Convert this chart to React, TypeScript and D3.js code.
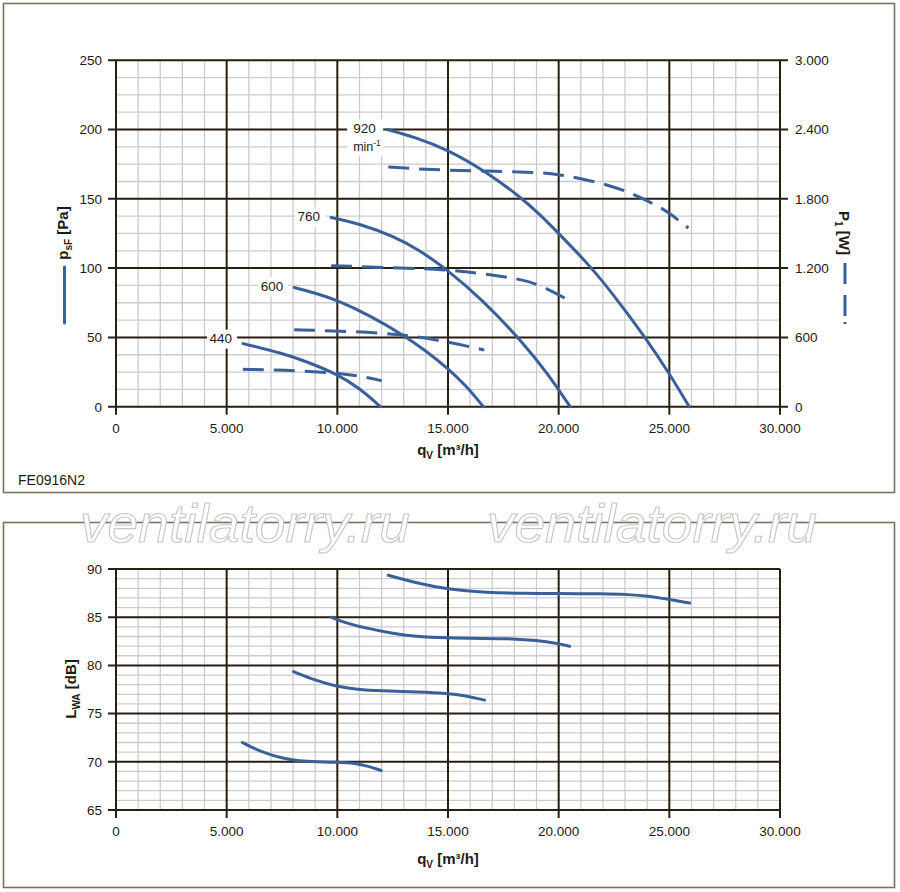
import React from "react";
import * as d3 from "d3";

// ---------- data ----------
const Q_MAJOR = [0, 5000, 10000, 15000, 20000, 25000, 30000];
const P_MAJOR = [0, 50, 100, 150, 200, 250];
const W_MAJOR = [0, 600, 1200, 1800, 2400, 3000];
const L_MAJOR = [65, 70, 75, 80, 85, 90];

const SPEEDS = ["440", "600", "760", "920"];

// static pressure psF [Pa] vs qV [m3/h]
const PRESS_440: [number, number][] = [[5740, 45.5], [7500, 38.7], [8700, 32], [9970, 23.6], [11000, 13.5], [11950, 0]];
const PRESS_600: [number, number][] = [[8050, 86], [9000, 82], [9970, 77], [11500, 65.5], [12840, 53], [14000, 40.5], [15000, 27.5], [15800, 15.5], [16600, 0]];
const PRESS_760: [number, number][] = [[9720, 136.5], [11000, 132], [12540, 123], [13700, 113], [14870, 100], [16500, 78], [18350, 47], [19500, 24], [20520, 0]];
const PRESS_920: [number, number][] = [[12250, 200], [13500, 194.5], [14950, 185.7], [16680, 170], [18260, 151.5], [19170, 138.5], [20000, 125], [21520, 100], [22700, 76], [23910, 50], [25000, 24], [25900, 0]];

// power P1 [W]
const POWER_440: [number, number][] = [[5730, 324], [7560, 318], [9970, 294], [11000, 267], [12000, 225]];
const POWER_600: [number, number][] = [[8050, 667], [9970, 655], [12840, 633], [15000, 561], [16640, 491]];
const POWER_760: [number, number][] = [[9720, 1221], [12540, 1203], [14870, 1190], [17000, 1142], [18000, 1112], [19030, 1070], [20520, 915]];
const POWER_920: [number, number][] = [[12300, 2075], [13500, 2060], [14950, 2048], [16680, 2040], [19030, 2030], [20000, 2012], [21000, 1975], [22330, 1915], [23140, 1858], [23690, 1812], [24460, 1738], [24960, 1684], [25860, 1547]];

// sound power LWA [dB]
const LWA_440: [number, number][] = [[5710, 72.0], [6300, 71.3], [7000, 70.7], [7560, 70.35], [8320, 70.08], [9000, 70.0], [10000, 69.97], [10800, 69.85], [11400, 69.55], [11980, 69.1]];
const LWA_600: [number, number][] = [[8020, 79.35], [9000, 78.45], [9970, 77.8], [10900, 77.5], [11930, 77.35], [13740, 77.25], [14950, 77.1], [15800, 76.85], [16650, 76.4]];
const LWA_760: [number, number][] = [[9720, 85.0], [10300, 84.45], [11330, 83.85], [12460, 83.33], [13500, 83.0], [14950, 82.84], [16500, 82.8], [17960, 82.77], [19000, 82.6], [19920, 82.29], [20490, 81.98]];
const LWA_920: [number, number][] = [[12300, 89.35], [13500, 88.6], [14950, 87.9], [16750, 87.55], [18500, 87.47], [19920, 87.45], [22000, 87.43], [23200, 87.35], [23990, 87.22], [24970, 86.86], [25920, 86.47]];

const PRESSURES = [PRESS_440, PRESS_600, PRESS_760, PRESS_920];
const POWERS = [POWER_440, POWER_600, POWER_760, POWER_920];
const LWAS = [LWA_440, LWA_600, LWA_760, LWA_920];

// ---------- styling ----------
const FONT = "'Liberation Sans', Arial, Helvetica, sans-serif";
const BLUE = "#3a609c";
const MAJOR = "#2a2012";
const MINOR = "#cbcbcb";
const TXT = "#1e1a14";

const locale = d3.formatLocale({ decimal: ",", thousands: ".", grouping: [3], currency: ["", ""] });
const fmt = locale.format(",");

const x = d3.scaleLinear().domain([0, 30000]).range([116, 780]);
const yP = d3.scaleLinear().domain([0, 250]).range([406.7, 60.2]);
const yW = d3.scaleLinear().domain([0, 3000]).range([406.7, 60.2]);
const yL = d3.scaleLinear().domain([65, 90]).range([810, 569]);

function Grid({ y, yMin, yMax, minorStep }: { y: d3.ScaleLinear<number, number>; yMin: number; yMax: number; minorStep: number }) {
  const xMinor = d3.range(0, 30001, 1000);
  const yMinor = d3.range(yMin, yMax + 0.001, minorStep);
  const [xa, xb] = x.range();
  const ya = y(yMin);
  const yb = y(yMax);
  return (
    <g>
      {xMinor.map((v) => (
        <line key={"vx" + v} x1={x(v)} x2={x(v)} y1={ya} y2={yb} stroke={MINOR} strokeWidth={1.3} />
      ))}
      {yMinor.map((v) => (
        <line key={"hy" + v} x1={xa} x2={xb} y1={y(v)} y2={y(v)} stroke={MINOR} strokeWidth={1.3} />
      ))}
    </g>
  );
}

function Majors({ y, ticks, leftLabels, rightScale, rightTicks }: { y: d3.ScaleLinear<number, number>; ticks: number[]; leftLabels: boolean; rightScale?: d3.ScaleLinear<number, number>; rightTicks?: number[] }) {
  const ya = y(ticks[0]);
  const yb = y(ticks[ticks.length - 1]);
  return (
    <g>
      {Q_MAJOR.map((v) => (
        <line key={"mx" + v} x1={x(v)} x2={x(v)} y1={yb} y2={ya + 8} stroke={MAJOR} strokeWidth={2} />
      ))}
      {ticks.map((v) => (
        <line key={"my" + v} x1={x(0) - 8} x2={x(30000) + (rightScale ? 8 : 0)} y1={y(v)} y2={y(v)} stroke={MAJOR} strokeWidth={2} />
      ))}
      {leftLabels &&
        ticks.map((v) => (
          <text key={"ly" + v} x={102} y={y(v) + 4.8} textAnchor="end" fontSize={13.5} fill={TXT} fontFamily={FONT}>
            {fmt(v)}
          </text>
        ))}
      {Q_MAJOR.map((v) => (
        <text key={"lx" + v} x={x(v)} y={ya + 26} textAnchor="middle" fontSize={13.5} fill={TXT} fontFamily={FONT}>
          {fmt(v)}
        </text>
      ))}
      {rightScale &&
        rightTicks &&
        rightTicks.map((v) => (
          <text key={"ry" + v} x={795} y={rightScale(v) + 4.8} textAnchor="start" fontSize={13.5} fill={TXT} fontFamily={FONT}>
            {fmt(v)}
          </text>
        ))}
    </g>
  );
}

function QTitle({ yBase }: { yBase: number }) {
  return (
    <text x={448} y={yBase} textAnchor="middle" fontSize={15} fontWeight="bold" fill={TXT} fontFamily={FONT}>
      q<tspan fontSize={10} dy={4}>V</tspan>
      <tspan dy={-4}> [m³/h]</tspan>
    </text>
  );
}

export default function App() {
  const curve = d3.curveBasis;
  const lineP = d3.line<[number, number]>().x((d) => x(d[0])).y((d) => yP(d[1])).curve(curve);
  const lineW = d3.line<[number, number]>().x((d) => x(d[0])).y((d) => yW(d[1])).curve(curve);
  const lineL = d3.line<[number, number]>().x((d) => x(d[0])).y((d) => yL(d[1])).curve(curve);

  return (
    <svg width={900} height={892} viewBox="0 0 900 892" style={{ position: "absolute", left: 0, top: 0, display: "block", background: "#fff" }}>
      <rect x={0} y={0} width={900} height={892} fill="#fff" />
      {/* frames */}
      <rect x={3.5} y={3.5} width={891} height={489} fill="#fff" stroke="#77725f" strokeWidth={1.6} />
      <rect x={3.5} y={522.5} width={891} height={365} fill="#fff" stroke="#77725f" strokeWidth={1.6} />

      {/* ---------- top chart ---------- */}
      <Grid y={yP} yMin={0} yMax={250} minorStep={12.5} />
      <Majors y={yP} ticks={P_MAJOR} leftLabels={true} rightScale={yW} rightTicks={W_MAJOR} />

      {POWERS.map((d, i) => (
        <path key={"pw" + i} d={lineW(d) || ""} fill="none" stroke={BLUE} strokeWidth={3} strokeDasharray="21 10" />
      ))}
      {PRESSURES.map((d, i) => (
        <path key={"pr" + i} d={lineP(d) || ""} fill="none" stroke={BLUE} strokeWidth={3} strokeLinecap="round" />
      ))}

      {/* speed labels */}
      {PRESSURES.map((d, i) => {
        const sx = x(d[0][0]);
        const sy = yP(d[0][1]);
        const is920 = SPEEDS[i] === "920";
        const dy = SPEEDS[i] === "440" ? -4 : 0;
        return (
          <g key={"lab" + i}>
            <rect x={sx - (is920 ? 40 : 36)} y={sy - 10 + dy} width={is920 ? 36 : 30} height={is920 ? 36 : 19} fill="#fff" />
            <text x={sx - (is920 ? 34 : 11)} y={sy + 3 + dy} textAnchor={is920 ? "start" : "end"} fontSize={13.5} fill={TXT} fontFamily={FONT}>
              {SPEEDS[i]}
            </text>
            {is920 && (
              <text x={sx - 34} y={sy + 21} textAnchor="start" fontSize={12.5} fill={TXT} fontFamily={FONT}>
                min<tspan fontSize={8.5} dy={-5}>-1</tspan>
              </text>
            )}
          </g>
        );
      })}

      <QTitle yBase={455} />

      {/* left axis title + legend */}
      <text transform="translate(68,233) rotate(-90)" textAnchor="middle" fontSize={15} fontWeight="bold" fill={TXT} fontFamily={FONT}>
        p<tspan fontSize={10} dy={4}>sF</tspan>
        <tspan dy={-4}> [Pa]</tspan>
      </text>
      <line x1={64.5} x2={64.5} y1={267} y2={323} stroke={BLUE} strokeWidth={3} strokeLinecap="round" />

      {/* right axis title + legend */}
      <text transform="translate(839,233) rotate(90)" textAnchor="middle" fontSize={15} fontWeight="bold" fill={TXT} fontFamily={FONT}>
        P<tspan fontSize={10} dy={4}>1</tspan>
        <tspan dy={-4}> [W]</tspan>
      </text>
      <line x1={845} x2={845} y1={263} y2={325} stroke={BLUE} strokeWidth={3} strokeDasharray="21 11 21 6 2 100" />

      <text x={18} y={485} fontSize={14} fill={TXT} fontFamily={FONT}>
        FE0916N2
      </text>

      {/* ---------- bottom chart ---------- */}
      <Grid y={yL} yMin={65} yMax={90} minorStep={1} />
      <Majors y={yL} ticks={L_MAJOR} leftLabels={true} />
      {LWAS.map((d, i) => (
        <path key={"lw" + i} d={lineL(d) || ""} fill="none" stroke={BLUE} strokeWidth={3} strokeLinecap="round" />
      ))}
      <QTitle yBase={864} />
      <text transform="translate(76,689) rotate(-90)" textAnchor="middle" fontSize={15} fontWeight="bold" fill={TXT} fontFamily={FONT}>
        L<tspan fontSize={10} dy={4}>WA</tspan>
        <tspan dy={-4}> [dB]</tspan>
      </text>

      {/* watermark */}
      {[80, 487].map((wx) => (
        <text key={"wm" + wx} x={wx} y={542} fontSize={54} fontStyle="italic" fill="#fff" stroke="#c6c6c6" strokeWidth={1.1} fontFamily={FONT} textLength={330} lengthAdjust="spacingAndGlyphs">
          ventilatorry.ru
        </text>
      ))}
    </svg>
  );
}
